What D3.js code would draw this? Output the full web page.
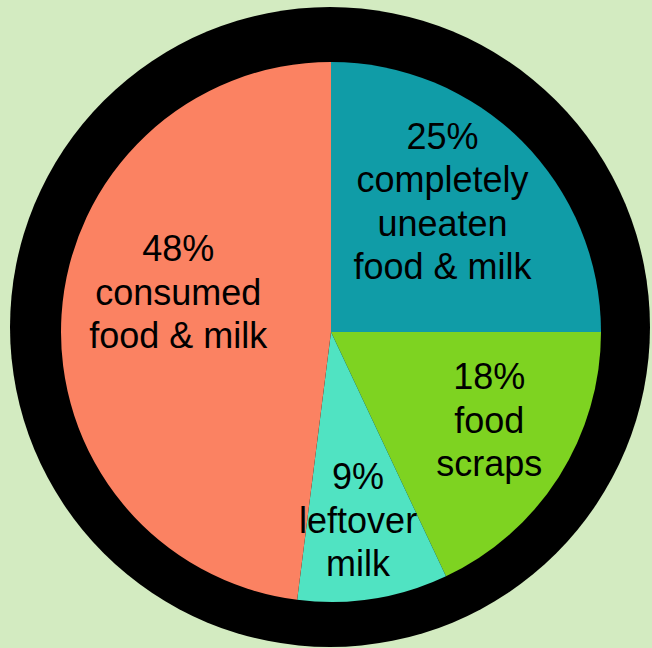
<!DOCTYPE html>
<meta charset="utf-8">
<script src="https://d3js.org/d3.v7.min.js"></script>
<style>
  body { margin: 0; background: #d3ebc1; }
</style>
<div id="chart"></div>
<script>
  // slice data, clockwise from 12 o'clock
  const categories = ["completely uneaten food & milk", "food scraps", "leftover milk", "consumed food & milk"];
  const values = [25, 18, 9, 48];
  const labelLines = [
    ["25%", "completely", "uneaten", "food & milk"],
    ["18%", "food", "scraps"],
    ["9%", "leftover", "milk"],
    ["48%", "consumed", "food & milk"]
  ];
  const colors = ["#109ca7", "#7ed321", "#50e3c2", "#fb8262"];

  const width = 652, height = 648;
  const cx = 331, cy = 332, radius = 270;

  // label placement: distance from centre and angle (degrees, clockwise from top)
  const labelLayout = [
    {r: 172, a: 40.4},
    {r: 181, a: 119},
    {r: 190, a: 171.8},
    {r: 158, a: 284.7}
  ];

  const svg = d3.select("#chart")
    .append("svg")
      .attr("width", width)
      .attr("height", height);

  svg.append("rect")
    .attr("width", width)
    .attr("height", height)
    .attr("fill", "#d3ebc1");

  // thick black ring around the pie
  svg.append("circle")
    .attr("cx", 330)
    .attr("cy", 327)
    .attr("r", 320)
    .attr("fill", "#000");

  const g = svg.append("g")
    .attr("transform", `translate(${cx},${cy})`);

  const pie = d3.pie().sort(null).value(d => d);
  const arc = d3.arc().innerRadius(0).outerRadius(radius);
  const arcs = pie(values);

  g.selectAll("path")
    .data(arcs)
    .join("path")
      .attr("d", arc)
      .attr("fill", (d, i) => colors[i]);

  const lineH = 43.5, fontSize = 36;

  g.selectAll("text")
    .data(arcs)
    .join("text")
      .attr("text-anchor", "middle")
      .attr("font-family", "Liberation Sans, Arial, sans-serif")
      .attr("font-size", fontSize)
      .attr("fill", "#000")
      .each(function(d, i) {
        const lay = labelLayout[i];
        const ang = lay.a * Math.PI / 180;
        const x = lay.r * Math.sin(ang);
        const y = -lay.r * Math.cos(ang);
        const lines = labelLines[i];
        // vertical middle of the block (cap top of first line to last baseline)
        const blockH = (lines.length - 1) * lineH + fontSize * 0.716;
        const firstBase = y - blockH / 2 + fontSize * 0.716;
        d3.select(this).selectAll("tspan")
          .data(lines)
          .join("tspan")
            .attr("x", x)
            .attr("y", (t, k) => firstBase + k * lineH)
            .text(t => t);
      });
</script>
